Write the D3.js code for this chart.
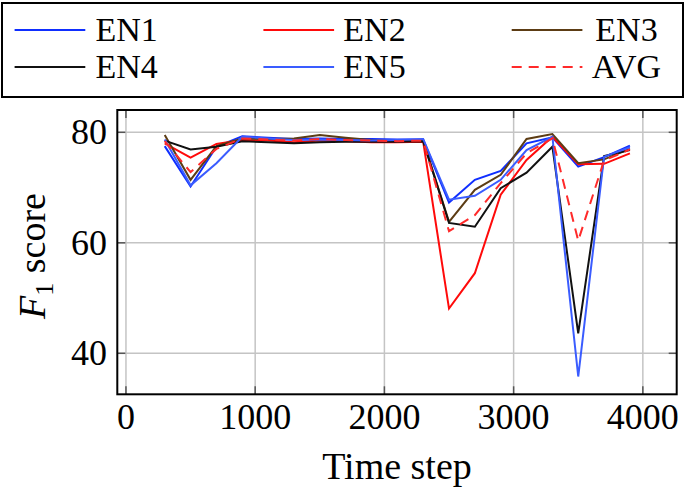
<!DOCTYPE html>
<html>
<head>
<meta charset="utf-8">
<script src="https://cdn.jsdelivr.net/npm/d3@7"></script>
<style>
  html, body { margin: 0; padding: 0; background: #fff; }
  svg { display: block; }
</style>
</head>
<body>
<div id="chart"></div>
<script>
'use strict';

// time steps shared by every series
const steps = [300, 500, 700, 900, 1100, 1300, 1500, 1700, 1900, 2100,
               2300, 2500, 2700, 2900, 3100, 3300, 3500, 3700, 3900];

const en1 = [77.5, 70.2, 77.4, 79.3, 79.0, 78.8, 78.9, 78.8, 78.8, 78.7,
             78.7, 67.3, 71.4, 73.0, 78.0, 79.1, 73.8, 75.5, 77.6];
const en2 = [78.0, 75.4, 77.9, 78.6, 78.5, 78.2, 78.5, 78.4, 78.2, 78.2,
             78.3, 48.1, 54.5, 68.7, 75.0, 79.2, 74.2, 74.3, 76.2];
const en3 = [79.5, 71.4, 77.5, 78.9, 78.8, 78.9, 79.5, 79.0, 78.6, 78.4,
             78.5, 63.8, 69.6, 72.3, 78.8, 79.7, 74.4, 75.1, 77.0];
const en4 = [78.5, 76.9, 77.4, 78.4, 78.2, 78.0, 78.2, 78.3, 78.3, 78.3,
             78.4, 63.6, 62.9, 69.9, 72.7, 77.4, 43.6, 75.7, 76.8];
const en5 = [78.7, 70.4, 74.4, 79.2, 78.9, 78.6, 78.7, 78.6, 78.5, 78.6,
             78.8, 67.8, 68.5, 71.4, 76.8, 79.2, 35.8, 75.6, 77.3];
const avg = [78.4, 72.8, 77.0, 78.9, 78.7, 78.5, 78.8, 78.6, 78.5, 78.4,
             78.5, 62.1, 65.0, 70.8, 76.2, 78.9, 60.4, 74.9, 76.9];

const seriesNames = ["EN1", "EN2", "EN3", "EN4", "EN5", "AVG"];
const xTicks = [0, 1000, 2000, 3000, 4000];
const yTicks = [40, 60, 80];

const series = [
    {name: "EN1", values: en1, color: "#0f2eff", dash: null},
    {name: "EN2", values: en2, color: "#ff0a0a", dash: null},
    {name: "EN3", values: en3, color: "#5c3c14", dash: null},
    {name: "EN4", values: en4, color: "#111111", dash: null},
    {name: "EN5", values: en5, color: "#3a5cff", dash: null},
    {name: "AVG", values: avg, color: "#ff2a2a", dash: "10,7"}
];

const W = 685, H = 493;
const box = {left: 117.3, right: 676.7, top: 110, bottom: 394.3};
const serif = "'Liberation Serif', 'DejaVu Serif', serif";

const svg = d3.select("#chart").append("svg")
    .attr("width", W)
    .attr("height", H)
    .attr("font-family", serif)
    .style("font-family", serif);

const x = d3.scaleLinear().domain([-67, 4262]).range([box.left, box.right]);
const y = d3.scaleLinear().domain([32.58, 84.04]).range([box.bottom, box.top]);

// grid
const grid = svg.append("g")
    .attr("stroke", "#c4c4c4")
    .attr("stroke-width", 1.5);
grid.selectAll("line.gx")
    .data(xTicks)
    .join("line")
    .attr("class", "gx")
    .attr("x1", d => x(d)).attr("x2", d => x(d))
    .attr("y1", box.top).attr("y2", box.bottom);
grid.selectAll("line.gy")
    .data(yTicks)
    .join("line")
    .attr("class", "gy")
    .attr("x1", box.left).attr("x2", box.right)
    .attr("y1", d => y(d)).attr("y2", d => y(d));

// tick marks inside the frame, on all four sides
const tickLen = 8;
const ticks = svg.append("g")
    .attr("stroke", "#555")
    .attr("stroke-width", 1.5);
xTicks.forEach(t => {
    ticks.append("line").attr("x1", x(t)).attr("x2", x(t))
        .attr("y1", box.bottom).attr("y2", box.bottom - tickLen);
    ticks.append("line").attr("x1", x(t)).attr("x2", x(t))
        .attr("y1", box.top).attr("y2", box.top + tickLen);
});
yTicks.forEach(t => {
    ticks.append("line").attr("x1", box.left).attr("x2", box.left + tickLen)
        .attr("y1", y(t)).attr("y2", y(t));
    ticks.append("line").attr("x1", box.right).attr("x2", box.right - tickLen)
        .attr("y1", y(t)).attr("y2", y(t));
});

// series
const line = d3.line()
    .x((d, i) => x(steps[i]))
    .y(d => y(d));

svg.append("g")
    .attr("fill", "none")
    .attr("stroke-width", 2)
    .selectAll("path")
    .data(series)
    .join("path")
    .attr("stroke", d => d.color)
    .attr("stroke-dasharray", d => d.dash)
    .attr("d", d => line(d.values));

// frame
svg.append("rect")
    .attr("x", box.left).attr("y", box.top)
    .attr("width", box.right - box.left)
    .attr("height", box.bottom - box.top)
    .attr("fill", "none")
    .attr("stroke", "#000")
    .attr("stroke-width", 2);

// tick labels
svg.append("g")
    .attr("font-size", 36)
    .attr("text-anchor", "middle")
    .selectAll("text")
    .data(xTicks)
    .join("text")
    .attr("x", d => x(d))
    .attr("y", 429)
    .text(d => d);

svg.append("g")
    .attr("font-size", 36)
    .attr("text-anchor", "end")
    .selectAll("text")
    .data(yTicks)
    .join("text")
    .attr("x", 107)
    .attr("y", d => y(d) + 12)
    .text(d => d);

// axis labels
svg.append("text")
    .attr("x", (box.left + box.right) / 2)
    .attr("y", 479)
    .attr("text-anchor", "middle")
    .attr("font-size", 38)
    .text("Time step");

const yl = svg.append("text")
    .attr("transform", "translate(45,256) rotate(-90)")
    .attr("text-anchor", "middle")
    .attr("font-size", 38);
yl.append("tspan").attr("font-style", "italic").text("F");
yl.append("tspan").attr("font-size", 26).attr("dy", 8).text("1");
yl.append("tspan").attr("dy", -8).text(" score");

// legend
const legend = svg.append("g");
legend.append("rect")
    .attr("x", 2).attr("y", 3)
    .attr("width", 681).attr("height", 94)
    .attr("fill", "#fff")
    .attr("stroke", "#000")
    .attr("stroke-width", 2);

const cols = [
    {lx: 14.6, textC: 126.7},
    {lx: 263.4, textC: 374.5},
    {lx: 511.7, textC: 626.5}
];
const rows = [30, 67];

const entry = legend.selectAll("g.entry")
    .data(series)
    .join("g")
    .attr("class", "entry")
    .attr("transform", (d, i) => `translate(0,${rows[Math.floor(i / 3)]})`);

entry.append("line")
    .attr("x1", (d, i) => cols[i % 3].lx)
    .attr("x2", (d, i) => cols[i % 3].lx + 70.7)
    .attr("y1", 0).attr("y2", 0)
    .attr("stroke", d => d.color)
    .attr("stroke-width", 2)
    .attr("stroke-dasharray", d => d.dash);

entry.append("text")
    .attr("x", (d, i) => cols[i % 3].textC)
    .attr("y", 11)
    .attr("text-anchor", "middle")
    .attr("font-size", 34)
    .text((d, i) => seriesNames[i]);
</script>
</body>
</html>
